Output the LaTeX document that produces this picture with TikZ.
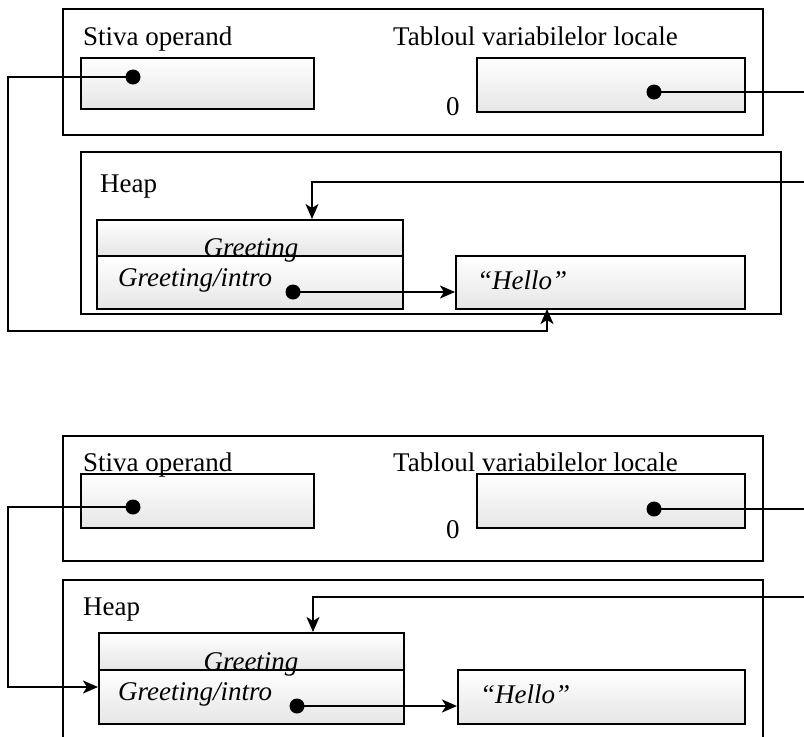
\documentclass[tikz,border=0pt]{standalone}
\usepackage{fontspec}
\setmainfont{Liberation Serif}
\usetikzlibrary{arrows.meta}
\begin{document}
\begin{tikzpicture}[x=1pt,y=-1pt,
  frame/.style={draw, line width=2pt, anchor=north west, inner sep=0},
  cell/.style={draw, line width=1.8pt, top color=white, bottom color=black!10, anchor=north west, inner sep=0},
  lbl/.style={anchor=base west, inner sep=0, font=\fontsize{27}{32}\selectfont},
  ilbl/.style={anchor=base west, inner sep=0, font=\fontsize{27}{32}\selectfont\itshape},
  ptr/.style={circle, fill=black, inner sep=0, minimum size=15pt},
  wire/.style={line width=2pt},
  arr/.style={wire, -{Stealth[length=15pt,width=13pt,inset=4pt]}}]
\useasboundingbox (0,0) rectangle (804,737);
\clip (0,0) rectangle (804,737);

% ---------- upper state ----------
\node[frame, minimum width=700pt, minimum height=126pt] (frm1) at (62,8) {};
\node[frame, minimum width=700pt, minimum height=162pt] (heap1) at (80,151) {};
\node[cell, minimum width=233pt, minimum height=51pt] (stack1) at (80,57) {};
\node[cell, minimum width=268pt, minimum height=54pt] (loc1) at (476,57) {};
\node[cell, minimum width=306pt, minimum height=36pt] (hdr1) at (96,219) {};
\node[cell, minimum width=306pt, minimum height=53pt] (fld1) at (96,255) {};
\node[cell, minimum width=289pt, minimum height=53pt] (hello1) at (455,255) {};

\node[ptr] (sdot1) at (133,77) {};
\node[ptr] (ldot1) at (654,92) {};
\node[ptr] (fdot1) at (293,292) {};

\coordinate (lc1) at (8,331);
\coordinate (hin1) at (547,309);
\coordinate (out1) at (804,92);
\coordinate (in1) at (804,182);
\coordinate (gin1) at (312,219);

\draw[arr] (sdot1.center) -| (lc1) -| (hin1);
\draw[wire] (ldot1.center) -- (out1);
\draw[arr] (in1) -| (gin1);
\draw[arr] (fdot1.center) -- (fdot1 -| hello1.west);

\node[lbl] (t1) at (83,45) {Stiva operand};
\node[lbl] (t2) at (393,45) {Tabloul variabilelor locale};
\node[lbl] (z1) at (446,115) {0};
\node[lbl] (h1) at (100,192) {Heap};
\node[ilbl, anchor=base] (g1) at (251,256) {Greeting};
\node[ilbl] (gi1) at (118,286) {Greeting/intro};
\node[ilbl] (s1) at (477,289) {“Hello”};

% ---------- lower state ----------
\node[frame, minimum width=700pt, minimum height=125pt] (frm2) at (62,435) {};
\node[frame, minimum width=700pt, minimum height=200pt] (heap2) at (62,579) {};
\node[cell, minimum width=233pt, minimum height=54pt] (stack2) at (80,473) {};
\node[cell, minimum width=268pt, minimum height=54pt] (loc2) at (476,473) {};
\node[cell, minimum width=305pt, minimum height=37pt] (hdr2) at (98,632) {};
\node[cell, minimum width=305pt, minimum height=54pt] (fld2) at (98,669) {};
\node[cell, minimum width=287pt, minimum height=54pt] (hello2) at (457,669) {};

\node[ptr] (sdot2) at (133,507) {};
\node[ptr] (ldot2) at (654,509) {};
\node[ptr] (fdot2) at (297,706) {};

\coordinate (lc2) at (8,687);
\coordinate (out2) at (804,509);
\coordinate (in2) at (804,597);
\coordinate (gin2) at (313,632);

\draw[arr] (sdot2.center) -| (lc2) -- (lc2 -| fld2.west);
\draw[wire] (ldot2.center) -- (out2);
\draw[arr] (in2) -| (gin2);
\draw[arr] (fdot2.center) -- (fdot2 -| hello2.west);

\node[lbl] (t3) at (83,471) {Stiva operand};
\node[lbl] (t4) at (393,471) {Tabloul variabilelor locale};
\node[lbl] (z2) at (446,538) {0};
\node[lbl] (h2) at (83,615) {Heap};
\node[ilbl, anchor=base] (g2) at (251,670) {Greeting};
\node[ilbl] (gi2) at (118,700) {Greeting/intro};
\node[ilbl] (s2) at (480,703) {“Hello”};
\end{tikzpicture}
\end{document}
